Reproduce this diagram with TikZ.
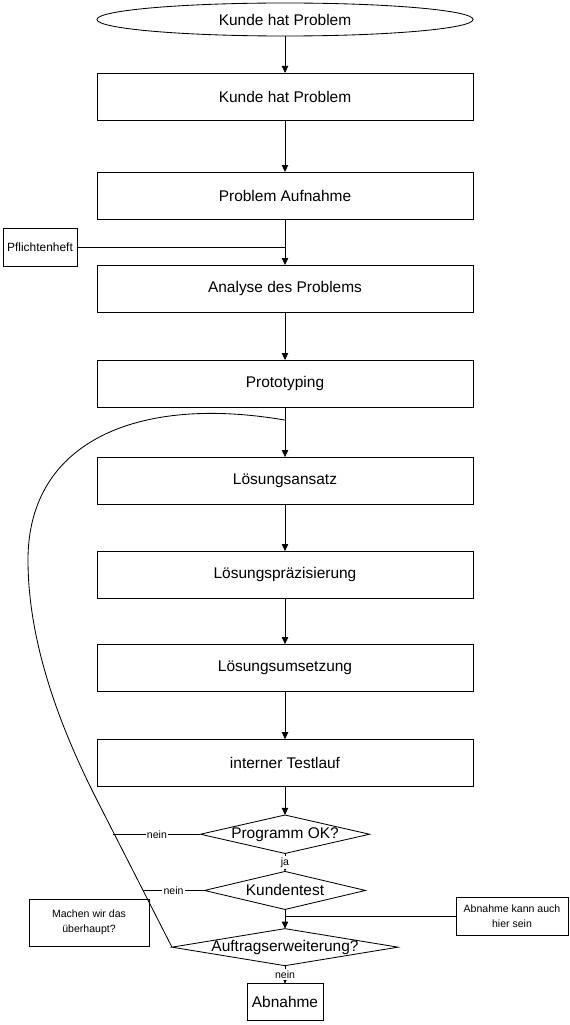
\documentclass[tikz,border=0pt]{standalone}
\usepackage{fontspec}
\setmainfont{Liberation Sans}
\usepackage{tikz}
\usetikzlibrary{positioning,calc,shapes.geometric,arrows.meta}

\begin{document}
\begin{tikzpicture}[
      x=0.025cm, y=-0.025cm, line width=0.6pt,
      node distance=1.175cm,
      every node/.style={font=\fontsize{11}{13}\selectfont, outer sep=0pt},
      start/.style={ellipse, draw=black, minimum width=9.4cm, minimum height=0.825cm, inner sep=0pt},
      block/.style={rectangle, draw=black, minimum width=9.4cm, minimum height=1.175cm, inner sep=2pt, align=center},
      endbox/.style={rectangle, draw=black, minimum width=1.9cm, minimum height=0.925cm, inner sep=1pt},
      decision/.style={diamond, draw=black, inner sep=0pt},
      note/.style={rectangle, draw=black, align=center, inner sep=1pt, font=\fontsize{7.5}{11}\selectfont},
      answer/.style={fill=white, inner sep=1pt, font=\fontsize{7.5}{8}\selectfont},
      arrow/.style={-{Triangle[length=5pt,width=4.5pt]}, black}
    ]
      \useasboundingbox (0,0) rectangle (570,1025);

      \node[start] (kunde) at (285,19.5) {Kunde hat Problem};
      \node[block, below=0.925cm of kunde] (problem) {Kunde hat Problem};
      \node[block, below=1.3cm of problem] (aufnahme) {Problem Aufnahme};
      \node[block, below=1.15cm of aufnahme] (analyse) {Analyse des Problems};
      \node[block, below=1.2cm of analyse] (proto) {Prototyping};
      \node[block, below=1.25cm of proto] (ansatz) {Lösungsansatz};
      \node[block, below=of ansatz] (praez) {Lösungspräzisierung};
      \node[block, below=1.15cm of praez] (umsetz) {Lösungsumsetzung};
      \node[block, below=1.2cm of umsetz] (test) {interner Testlauf};
      \node[decision, aspect=4.4, minimum width=4.1cm, minimum height=0.925cm, below=0.72cm of test] (progok) {Programm OK?};
      \node[decision, aspect=4.2, minimum width=4.025cm, minimum height=0.95cm, below=0.45cm of progok] (kdtest) {Kundentest};
      \node[decision, aspect=6.1, inner sep=-1.5pt, minimum width=5.65cm, minimum height=0.925cm, below=0.48cm of kdtest] (erweit) {Auftragserweiterung?};
      \node[endbox, below=0.45cm of erweit] (abnahme) {Abnahme};

      % Notizen am Rand
      \node[note, minimum width=1.85cm, minimum height=0.95cm, font=\fontsize{8.5}{11}\selectfont] (pflicht) at (40,247) {Pflichtenheft};
      \node[note, minimum width=3cm, minimum height=1.175cm] (machen) at (89,922.5) {Machen wir das\\überhaupt?};
      \node[note, minimum width=2.8cm, minimum height=0.95cm] (hiersein) at (512,916) {Abnahme kann auch\\hier sein};

      \draw[arrow] (kunde) -- (problem);
      \draw[arrow] (problem) -- (aufnahme);
      \draw[arrow] (aufnahme) -- (analyse);
      \draw[arrow] (analyse) -- (proto);
      \draw[arrow] (proto) -- (ansatz);
      \draw[arrow] (ansatz) -- (praez);
      \draw[arrow] (praez) -- (umsetz);
      \draw[arrow] (umsetz) -- (test);
      \draw[arrow] (test) -- (progok);
      \draw[arrow] (progok) -- node[answer]{ja} (kdtest);
      \draw[arrow] (kdtest) -- (erweit);
      \draw[arrow] (erweit) -- node[answer]{nein} (abnahme);
      \draw (pflicht.east) -- (pflicht.east -| analyse.north);
      \draw (hiersein.west) -- (hiersein.west -| kdtest.south);

      % Ruecksprung zum Loesungsansatz
      \coordinate (knick) at (100,806);
      \coordinate (rueck) at ($(proto.south)+(0,13)$);
      \draw (erweit.west) -- (knick) .. controls (66,740) and (28,650) .. (28,560)
            .. controls (28,440) and (140,395) .. (rueck);
      \coordinate (j1) at ($(knick)!0.186!(erweit.west)$);
      \coordinate (j2) at ($(knick)!0.593!(erweit.west)$);
      \draw (progok.west) -- node[answer]{nein} (progok.west -| j1);
      \draw (kdtest.west) -- node[answer]{nein} (kdtest.west -| j2);
    \end{tikzpicture}
\end{document}
